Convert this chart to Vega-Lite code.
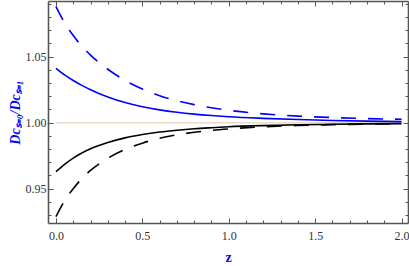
{
  "$schema": "https://vega.github.io/schema/vega-lite/v6.json",
  "width": 360,
  "height": 222,
  "autosize": {"type": "none"},
  "padding": {"left": 48, "top": 1, "right": 1, "bottom": 43},
  "background": "white",
  "config": {
    "view": {"stroke": null},
    "axis": {
      "labelFont": "Liberation Serif",
      "labelFontSize": 12,
      "labelColor": "#333333",
      "domainColor": "#555555",
      "domainWidth": 1.6,
      "tickColor": "#555555",
      "tickWidth": 1,
      "grid": false
    }
  },
  "datasets": {
    "blueSolid": [
      {"z": 0, "v": 1.0412}, {"z": 0.05, "v": 1.0362}, {"z": 0.1, "v": 1.032}, {"z": 0.15, "v": 1.0283},
      {"z": 0.2, "v": 1.025}, {"z": 0.3, "v": 1.0195}, {"z": 0.4, "v": 1.0153}, {"z": 0.5, "v": 1.0121},
      {"z": 0.6, "v": 1.0097}, {"z": 0.7, "v": 1.0079}, {"z": 0.8, "v": 1.0065}, {"z": 0.9, "v": 1.0054},
      {"z": 1.0, "v": 1.0045}, {"z": 1.2, "v": 1.0033}, {"z": 1.4, "v": 1.0024}, {"z": 1.6, "v": 1.0017},
      {"z": 1.8, "v": 1.0012}, {"z": 2.0, "v": 1.0008}
    ],
    "blueDashed": [
      {"z": 0, "v": 1.088}, {"z": 0.05, "v": 1.0758}, {"z": 0.1, "v": 1.066}, {"z": 0.15, "v": 1.058},
      {"z": 0.2, "v": 1.0512}, {"z": 0.3, "v": 1.0405}, {"z": 0.4, "v": 1.032}, {"z": 0.5, "v": 1.0255},
      {"z": 0.6, "v": 1.0205}, {"z": 0.7, "v": 1.0167}, {"z": 0.8, "v": 1.0137}, {"z": 0.9, "v": 1.0113},
      {"z": 1.0, "v": 1.0094}, {"z": 1.2, "v": 1.0067}, {"z": 1.4, "v": 1.005}, {"z": 1.6, "v": 1.0039},
      {"z": 1.8, "v": 1.0031}, {"z": 2.0, "v": 1.0026}
    ],
    "blackSolid": [
      {"z": 0, "v": 0.9629}, {"z": 0.05, "v": 0.9685}, {"z": 0.1, "v": 0.9732}, {"z": 0.15, "v": 0.977},
      {"z": 0.2, "v": 0.9802}, {"z": 0.3, "v": 0.985}, {"z": 0.4, "v": 0.9885}, {"z": 0.5, "v": 0.991},
      {"z": 0.6, "v": 0.9929}, {"z": 0.7, "v": 0.9943}, {"z": 0.8, "v": 0.9954}, {"z": 0.9, "v": 0.9962},
      {"z": 1.0, "v": 0.9969}, {"z": 1.2, "v": 0.9978}, {"z": 1.4, "v": 0.9984}, {"z": 1.6, "v": 0.9988},
      {"z": 1.8, "v": 0.9991}, {"z": 2.0, "v": 0.9993}
    ],
    "blackDashed": [
      {"z": 0, "v": 0.9288}, {"z": 0.05, "v": 0.941}, {"z": 0.1, "v": 0.95}, {"z": 0.15, "v": 0.9576},
      {"z": 0.2, "v": 0.9638}, {"z": 0.3, "v": 0.973}, {"z": 0.4, "v": 0.9797}, {"z": 0.5, "v": 0.9845},
      {"z": 0.6, "v": 0.9882}, {"z": 0.7, "v": 0.9908}, {"z": 0.8, "v": 0.9927}, {"z": 0.9, "v": 0.9942},
      {"z": 1.0, "v": 0.9953}, {"z": 1.2, "v": 0.9969}, {"z": 1.4, "v": 0.9979}, {"z": 1.6, "v": 0.9985},
      {"z": 1.8, "v": 0.9989}, {"z": 2.0, "v": 0.9992}
    ],
    "reference": [
      {"z": 0, "v": 1.0}, {"z": 2.0, "v": 1.0}
    ]
  },
  "resolve": {"axis": {"x": "independent", "y": "independent"}},
  "layer": [
    {
      "data": {"name": "reference"},
      "mark": {"type": "line", "color": "#e8d9c8", "strokeWidth": 1.5},
      "encoding": {
        "x": {"field": "z", "type": "quantitative", "scale": {"domain": [-0.046, 2.037], "nice": false, "zero": false}, "axis": null},
        "y": {"field": "v", "type": "quantitative", "scale": {"domain": [0.924, 1.0922], "nice": false, "zero": false}, "axis": null}
      }
    },
    {
      "data": {"name": "blueSolid"},
      "mark": {"type": "line", "color": "#0000ff", "strokeWidth": 1.6, "interpolate": "monotone"},
      "encoding": {
        "x": {"field": "z", "type": "quantitative", "scale": {"domain": [-0.046, 2.037], "nice": false, "zero": false},
          "axis": {"orient": "bottom", "values": [0, 0.5, 1, 1.5, 2], "format": ".1f", "tickSize": -5, "labelPadding": 12,
            "labelFont": "Liberation Serif", "labelFontSize": 12, "labelColor": "#333333",
            "title": "z", "titleFont": "Liberation Serif", "titleFontSize": 14, "titleFontWeight": "bold", "titleColor": "#0000ff", "titlePadding": 9}},
        "y": {"field": "v", "type": "quantitative", "scale": {"domain": [0.924, 1.0922], "nice": false, "zero": false},
          "axis": {"orient": "left", "values": [0.95, 1.0, 1.05], "format": ".2f", "tickSize": -5, "labelPadding": 7,
            "labelFont": "Liberation Serif", "labelFontSize": 12, "labelColor": "#333333",
            "title": "Dcₛ₌₀/Dcₛ₌₁", "titleFont": "Liberation Serif", "titleFontSize": 14, "titleFontWeight": "bold", "titleFontStyle": "italic", "titleColor": "#0000ff", "titlePadding": 3}}
      }
    },
    {
      "data": {"name": "blueDashed"},
      "mark": {"type": "line", "color": "#0000ff", "strokeWidth": 1.6, "strokeDash": [15, 12], "interpolate": "monotone"},
      "encoding": {
        "x": {"field": "z", "type": "quantitative", "scale": {"domain": [-0.046, 2.037], "nice": false, "zero": false},
          "axis": {"orient": "bottom", "values": [0, 0.1, 0.2, 0.3, 0.4, 0.5, 0.6, 0.7, 0.8, 0.9, 1, 1.1, 1.2, 1.3, 1.4, 1.5, 1.6, 1.7, 1.8, 1.9, 2], "tickSize": -3, "labels": false, "domain": false, "title": null}},
        "y": {"field": "v", "type": "quantitative", "scale": {"domain": [0.924, 1.0922], "nice": false, "zero": false},
          "axis": {"orient": "left", "values": [0.93, 0.94, 0.95, 0.96, 0.97, 0.98, 0.99, 1.0, 1.01, 1.02, 1.03, 1.04, 1.05, 1.06, 1.07, 1.08, 1.09], "tickSize": -3, "labels": false, "domain": false, "title": null}}
      }
    },
    {
      "data": {"name": "blackSolid"},
      "mark": {"type": "line", "color": "#000000", "strokeWidth": 1.6, "interpolate": "monotone"},
      "encoding": {
        "x": {"field": "z", "type": "quantitative", "scale": {"domain": [-0.046, 2.037], "nice": false, "zero": false},
          "axis": {"orient": "top", "values": [0, 0.5, 1, 1.5, 2], "tickSize": -5, "labels": false, "title": null}},
        "y": {"field": "v", "type": "quantitative", "scale": {"domain": [0.924, 1.0922], "nice": false, "zero": false},
          "axis": {"orient": "right", "values": [0.95, 1.0, 1.05], "tickSize": -5, "labels": false, "title": null}}
      }
    },
    {
      "data": {"name": "blackDashed"},
      "mark": {"type": "line", "color": "#000000", "strokeWidth": 1.6, "strokeDash": [15, 12], "interpolate": "monotone"},
      "encoding": {
        "x": {"field": "z", "type": "quantitative", "scale": {"domain": [-0.046, 2.037], "nice": false, "zero": false},
          "axis": {"orient": "top", "values": [0, 0.1, 0.2, 0.3, 0.4, 0.5, 0.6, 0.7, 0.8, 0.9, 1, 1.1, 1.2, 1.3, 1.4, 1.5, 1.6, 1.7, 1.8, 1.9, 2], "tickSize": -3, "labels": false, "domain": false, "title": null}},
        "y": {"field": "v", "type": "quantitative", "scale": {"domain": [0.924, 1.0922], "nice": false, "zero": false},
          "axis": {"orient": "right", "values": [0.93, 0.94, 0.95, 0.96, 0.97, 0.98, 0.99, 1.0, 1.01, 1.02, 1.03, 1.04, 1.05, 1.06, 1.07, 1.08, 1.09], "tickSize": -3, "labels": false, "domain": false, "title": null}}
      }
    }
  ]
}
